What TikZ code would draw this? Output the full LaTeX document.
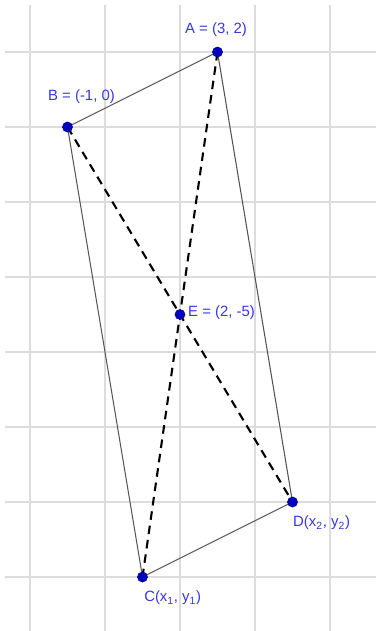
\documentclass[tikz,border=0pt]{standalone}
\usepackage{fontspec}
\setmainfont{Liberation Sans}
\definecolor{gridgray}{RGB}{220,220,220}
\definecolor{edgegray}{RGB}{85,85,85}
\definecolor{lblblue}{RGB}{55,55,220}
\definecolor{ptblue}{RGB}{0,0,190}
\begin{document}
\begin{tikzpicture}[
  gridline/.style={draw=gridgray, line width=0.8pt},
  side/.style={draw=edgegray, line width=0.8pt},
  diag/.style={draw=black, line width=1.6pt, dash pattern=on 6.5pt off 4.5pt},
  dot/.style={circle, fill=ptblue, draw=ptblue!70!black, line width=0.4pt, inner sep=0pt, minimum size=0.27cm},
  lbl/.style={text=lblblue, font=\fontsize{11.3}{13}\selectfont, inner sep=0pt}
]
\useasboundingbox (-2.8,-13.44) rectangle (7.227,3.387);
% grid
\foreach \x in {-2,0,2,4,6} \draw[gridline] (\x,3.253) -- (\x,-13.44);
\foreach \y in {2,0,-2,-4,-6,-8,-10,-12} \draw[gridline] (-2.667,\y) -- (7.227,\y);
% points
\coordinate (A) at (3,2);
\coordinate (B) at (-1,0);
\coordinate (E) at (2,-5);
\coordinate (C) at (1,-12);
\coordinate (D) at (5,-10);
% sides
\draw[side] (B) -- (A);
\draw[side] (A) -- (D);
\draw[side] (D) -- (C);
\draw[side] (C) -- (B);
% diagonals
\draw[diag] (A) -- (C);
\draw[diag] (B) -- (D);
% dots
\node[dot] (Ad) at (A) {};
\node[dot] (Bd) at (B) {};
\node[dot] (Ed) at (E) {};
\node[dot] (Cd) at (C) {};
\node[dot] (Dd) at (D) {};
% labels
\node[lbl] (Al) at (2.96,2.587) {A = (3, 2)};
\node[lbl] (Bl) at (-0.627,0.8) {B = (-1, 0)};
\node[lbl, anchor=west] (El) at (2.213,-4.96) {E = (2, -5)};
\node[lbl, anchor=west] (Dl) at (5.013,-10.56) {D(x\textsubscript{2}, y\textsubscript{2})};
\node[lbl, anchor=west] (Cl) at (1.04,-12.56) {C(x\textsubscript{1}, y\textsubscript{1})};
\end{tikzpicture}
\end{document}
